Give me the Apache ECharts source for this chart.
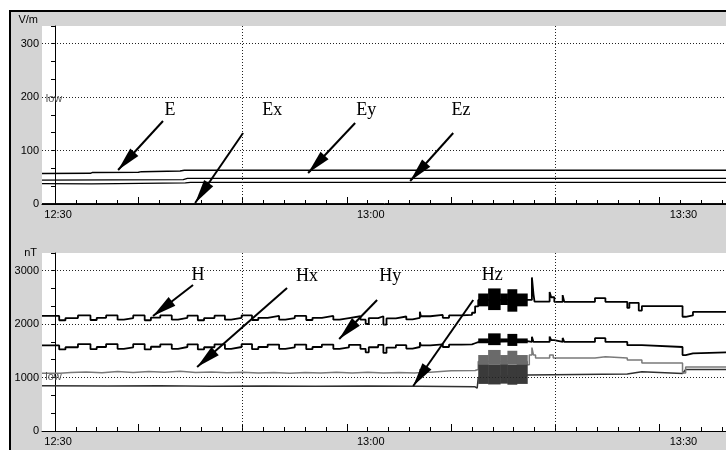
<!DOCTYPE html>
<html>
<head>
<meta charset="utf-8">
<script src="https://cdn.jsdelivr.net/npm/echarts@6.0.0/dist/echarts.min.js"></script>
<style>
html, body { margin: 0; padding: 0; background: #fff; }
#chart { width: 726px; height: 450px; }
</style>
</head>
<body>
<div id="chart"></div>
<script>
// time is in minutes after 12:30
const X_MIN = -1.25;
const X_MAX = 64.37;
const timeLabels = { 0: '12:30', 30: '13:00', 60: '13:30' };
const labelTicks = [0, 30, 60];
const smallTicks = [0, 2, 4, 6, 8, 10, 12, 14, 16, 18, 20, 22, 24, 26, 28, 30, 32, 34, 36, 38, 40, 42, 44, 46, 48, 50, 52, 54, 56, 58, 60, 62, 64];
const tallTicks = [8, 18, 28, 38, 48, 58];
const gridTimes = [18, 48];

// electric field, V/m
const eGrid = [100, 200, 300];
const E = [[-1.25, 57], [3.4, 57.3], [3.6, 59], [8.0, 59.5], [8.3, 60.5], [12.0, 61.5], [12.4, 63], [65.9, 63]];
const Ex = [[-1.25, 0.8], [65.9, 0.8]];
const Ey = [[-1.25, 44.5], [12.3, 45.5], [12.7, 48], [65.9, 48]];
const Ez = [[-1.25, 38], [3.5, 37.5], [6.0, 38], [12.5, 39.5], [13.0, 40.5], [65.9, 40.5]];

// magnetic field, nT
const hGrid = [1000, 2000, 3000];
const H = [
  [-1.25, 2150], [0.4, 2070], [1.0, 2110], [2.2, 2160], [3.4, 2075], [4.0, 2115], [4.9, 2160], [6.0, 2080], [6.6, 2110],
  [7.5, 2160], [8.6, 2070], [9.2, 2120], [10.1, 2160], [11.2, 2080], [11.8, 2115], [12.7, 2155], [13.7, 2070], [14.3, 2110],
  [15.3, 2155], [16.3, 2080], [16.9, 2115], [17.9, 2160], [18.9, 2075], [19.5, 2115], [20.4, 2150], [21.5, 2080], [22.1, 2110],
  [23.0, 2150], [24.1, 2075], [24.7, 2115], [25.6, 2150], [26.7, 2080], [27.3, 2110], [28.2, 2145], [29.3, 2080], [29.8, 2000],
  [30.1, 2110], [31.0, 2145], [31.5, 1990], [31.8, 2105], [32.7, 2140], [33.7, 2085], [34.3, 2115], [35.0, 2230], [35.1, 2145],
  [36.0, 2170], [37.2, 2115], [37.8, 2160], [39.0, 2170], [40.0, 2210], [40.3, 2330], [40.6, 2450],
  [45.3, 2450], [45.75, 2870], [45.9, 2560], [46.0, 2420], [47.45, 2600], [47.6, 2500], [47.9, 2415], [48.7, 2540], [48.85, 2415],
  [51.8, 2485], [52.8, 2415], [54.9, 2300], [55.1, 2395], [56.0, 2250], [56.3, 2335], [60.2, 2135], [60.5, 2160], [61.2, 2225], [65.9, 2225]
];
const Hy = [
  [-1.25, 1600], [0.4, 1525], [1.0, 1565], [2.2, 1625], [3.4, 1530], [4.0, 1570], [4.9, 1625], [6.0, 1535], [6.6, 1565],
  [7.5, 1625], [8.6, 1525], [9.2, 1575], [10.1, 1620], [11.2, 1535], [11.8, 1570], [12.7, 1620], [13.7, 1525], [14.3, 1565],
  [15.3, 1620], [16.3, 1535], [16.9, 1570], [17.9, 1625], [18.9, 1530], [19.5, 1570], [20.4, 1615], [21.5, 1535], [22.1, 1565],
  [23.0, 1615], [24.1, 1530], [24.7, 1570], [25.6, 1615], [26.7, 1535], [27.3, 1565], [28.2, 1610], [29.3, 1535], [29.8, 1470],
  [30.1, 1565], [31.0, 1610], [31.5, 1460], [31.8, 1560], [32.7, 1605], [33.7, 1540], [34.3, 1570], [35.0, 1660], [35.1, 1600],
  [36.0, 1620], [37.2, 1570], [37.8, 1615], [39.0, 1620], [40.0, 1640], [40.3, 1660], [40.6, 1680],
  [45.3, 1665], [45.75, 1760], [45.9, 1665], [47.45, 1765], [47.6, 1700], [47.9, 1665], [48.7, 1740], [48.85, 1665],
  [51.8, 1735], [52.8, 1665], [54.9, 1605], [56.3, 1570], [60.2, 1420], [60.5, 1450], [61.2, 1478], [65.9, 1478]
];
const Hx = [
  [-1.25, 1080], [0.5, 1095], [1.5, 1105], [3.0, 1090], [4.5, 1110], [6.0, 1095], [7.5, 1110], [9.0, 1100], [10.5, 1115],
  [12.0, 1095], [13.5, 1105], [15.0, 1090], [16.5, 1100], [18.0, 1085], [19.5, 1095], [21.0, 1080], [22.5, 1095], [24.0, 1085],
  [25.5, 1100], [27.0, 1085], [28.5, 1100], [30.0, 1085], [31.5, 1095], [33.0, 1085], [34.5, 1095], [35.0, 1160], [35.1, 1100],
  [36.0, 1125], [38.0, 1130], [40.3, 1150], [40.6, 1300],
  [45.3, 1240], [45.5, 1420], [45.75, 1560], [45.9, 1420], [46.1, 1365], [47.45, 1420], [47.8, 1365], [48.7, 1400], [48.85, 1365],
  [51.8, 1390], [52.8, 1365], [54.9, 1327], [56.3, 1271], [60.2, 1084], [60.5, 1196], [65.9, 1196]
];
const Hz = [
  [-1.25, 845], [5, 840], [10, 845], [15, 838], [20, 842], [25, 835], [30, 840], [35, 836], [40.3, 825], [40.5, 800], [40.6, 1000],
  [45.3, 1047], [54.9, 1065], [56.3, 1108], [60.2, 1075], [60.5, 1150], [65.9, 1150]
];

// noisy block around 13:11-13:15: step edges, then low / high envelope per step
const blobT = [40.6, 41.55, 42.7, 43.4, 44.3, 45.3];
const H_lo = [2330, 2260, 2355, 2230, 2330];
const H_hi = [2570, 2665, 2570, 2650, 2570];
const Hy_lo = [1640, 1605, 1670, 1590, 1640];
const Hy_hi = [1730, 1825, 1730, 1815, 1730];
const Hx_lo = [1240, 1240, 1240, 1240, 1240];
const Hx_hi = [1420, 1515, 1420, 1500, 1420];
const Hz_lo = [880, 870, 885, 865, 880];
const Hz_hi = [1250, 1245, 1255, 1240, 1250];

// annotations: label position and arrow (from -> to)
const eNotes = [
  { name: 'E', text: [11.04, 175.7], from: [10.36, 155.1], to: [6.05, 63.6] },
  { name: 'Ex', text: [20.83, 175.7], from: [18.04, 132.7], to: [13.44, 1.9] },
  { name: 'Ey', text: [29.85, 175.7], from: [28.79, 151.4], to: [24.28, 57.9] },
  { name: 'Ez', text: [38.95, 175.7], from: [38.2, 132.7], to: [34.07, 43] }
];
const hNotes = [
  { name: 'H', text: [13.72, 2916], from: [13.24, 2729], to: [9.4, 2149] },
  { name: 'Hx', text: [24.18, 2897], from: [22.26, 2673], to: [13.63, 1196] },
  { name: 'Hy', text: [32.15, 2897], from: [30.9, 2448], to: [27.26, 1719] },
  { name: 'Hz', text: [41.94, 2916], from: [40.12, 2448], to: [34.36, 841] }
];

// arrow head: tip sits in the middle of the symbol box, so it lands on the end point
const ARROW_HEAD = 'path://M5,0 M5,24 L10,48 L0,48 Z';

let myChart = echarts.init(document.getElementById('chart'));

function timeAxes(gridIndex) {
  return [
    {
      type: 'value', gridIndex: gridIndex, min: X_MIN, max: X_MAX, position: 'bottom',
      axisLine: { show: true, lineStyle: { color: '#000', width: 1 } },
      axisTick: { show: true, inside: true, length: 4, customValues: smallTicks, lineStyle: { color: '#000' } },
      axisLabel: {
        customValues: labelTicks, formatter: v => timeLabels[v] || '',
        color: '#000', fontSize: 11, fontFamily: 'Liberation Sans', margin: 5, padding: [0, 0, 0, 6]
      },
      splitLine: { show: false }
    },
    {
      type: 'value', gridIndex: gridIndex, min: X_MIN, max: X_MAX, position: 'bottom',
      axisLine: { show: false },
      axisTick: { show: true, inside: true, length: 7, customValues: tallTicks, lineStyle: { color: '#000' } },
      axisLabel: { show: false },
      splitLine: { show: false }
    }
  ];
}

function valueAxis(gridIndex, max, interval) {
  return {
    type: 'value', gridIndex: gridIndex, min: 0, max: max, interval: interval, position: 'left',
    axisLine: { show: true, lineStyle: { color: '#000' } },
    axisTick: { show: true, length: 4, lineStyle: { color: '#000' } },
    minorTick: { show: true, splitNumber: 3, length: 4, lineStyle: { color: '#000' } },
    axisLabel: {
      formatter: v => (v % interval === 0 ? String(v) : ''), showMaxLabel: false,
      color: '#000', fontSize: 11, fontFamily: 'Liberation Sans', margin: 3
    },
    splitLine: { show: false }
  };
}

// dotted grid lines, drawn as mark lines under the data
function gridSeries(xIdx, yIdx, levels) {
  let lines = levels.map(v => ({ yAxis: v })).concat(gridTimes.map(t => ({ xAxis: t })));
  return {
    type: 'line', xAxisIndex: xIdx, yAxisIndex: yIdx, data: [], z: 1, silent: true,
    markLine: {
      silent: true, symbol: ['none', 'none'], label: { show: false },
      lineStyle: { color: '#222', width: 1, type: [1, 2] },
      emphasis: { disabled: true }, animation: false, data: lines
    }
  };
}

function lineSeries(name, xIdx, yIdx, data, color, width, step) {
  return {
    name: name, type: 'line', xAxisIndex: xIdx, yAxisIndex: yIdx, data: data,
    step: step ? 'end' : false, showSymbol: false, symbol: 'none', z: 2,
    lineStyle: { color: color, width: width }, emphasis: { disabled: true }
  };
}

// filled block between low and high envelope, one rect per step
function bandSeries(xIdx, yIdx, lo, hi, color) {
  let segs = lo.map((v, i) => [blobT[i], blobT[i + 1], v, hi[i]]);
  return {
    type: 'custom', xAxisIndex: xIdx, yAxisIndex: yIdx, z: 3, silent: true,
    encode: { x: [0, 1], y: [2, 3] },
    data: segs,
    renderItem: function (params, api) {
      let p0 = api.coord([api.value(0), api.value(3)]);
      let p1 = api.coord([api.value(1), api.value(2)]);
      return {
        type: 'rect',
        shape: { x: p0[0], y: p0[1], width: p1[0] - p0[0] + 0.5, height: p1[1] - p0[1] },
        style: { fill: color }
      };
    }
  };
}

function noteSeries(xIdx, yIdx, notes, lowAt) {
  return {
    type: 'line', xAxisIndex: xIdx, yAxisIndex: yIdx, data: [], z: 5, silent: true,
    markLine: {
      silent: true, symbol: ['none', ARROW_HEAD], symbolSize: [11, 48],
      label: { show: false }, lineStyle: { color: '#000', width: 2, type: 'solid' },
      itemStyle: { color: '#000' },
      emphasis: { disabled: true }, animation: false,
      data: notes.map(n => [{ coord: n.from }, { coord: n.to }])
    },
    markPoint: {
      silent: true, symbol: 'rect', symbolSize: 1, itemStyle: { color: 'rgba(0,0,0,0)' },
      animation: false,
      data: notes.map(n => ({
        name: n.name, coord: n.text,
        label: { show: true, position: 'inside', formatter: '{b}', color: '#000', fontSize: 18, fontFamily: 'Liberation Serif' }
      })).concat([{
        name: 'low', coord: lowAt,
        label: { show: true, position: 'inside', formatter: '{b}', color: '#555', fontSize: 11, fontFamily: 'Liberation Sans' }
      }])
    }
  };
}

let option = {
  animation: false,
  backgroundColor: '#fff',
  graphic: [
    {
      type: 'rect', z: -10, silent: true,
      shape: { x: 10, y: 11, width: 800, height: 500 },
      style: { fill: '#d4d4d4', stroke: '#000', lineWidth: 2 }
    },
    // unit captions of the two value axes
    {
      type: 'text', x: 38, y: 20, silent: true,
      style: { text: 'V/m', align: 'right', verticalAlign: 'middle', fill: '#000', font: '11px "Liberation Sans"' }
    },
    {
      type: 'text', x: 37, y: 253, silent: true,
      style: { text: 'nT', align: 'right', verticalAlign: 'middle', fill: '#000', font: '11px "Liberation Sans"' }
    }
  ],
  grid: [
    { left: 42, top: 26, right: 0, height: 178, show: true, backgroundColor: '#fff', borderWidth: 0 },
    { left: 42, top: 253, right: 0, height: 178, show: true, backgroundColor: '#fff', borderWidth: 0 }
  ],
  xAxis: timeAxes(0).concat(timeAxes(1)),
  yAxis: [valueAxis(0, 332.7, 100), valueAxis(1, 3327, 1000)],
  series: [
    gridSeries(0, 0, eGrid),
    gridSeries(2, 1, hGrid),
    lineSeries('E', 0, 0, E, '#000', 1.5, false),
    lineSeries('Ex', 0, 0, Ex, '#000', 1, false),
    lineSeries('Ey', 0, 0, Ey, '#000', 1.2, false),
    lineSeries('Ez', 0, 0, Ez, '#000', 1.2, false),
    lineSeries('Hz', 2, 1, Hz, '#303030', 1.5, false),
    lineSeries('Hx', 2, 1, Hx, '#7a7a7a', 1.5, true),
    lineSeries('Hy', 2, 1, Hy, '#000', 1.8, true),
    lineSeries('H', 2, 1, H, '#000', 1.8, true),
    bandSeries(2, 1, Hz_lo, Hz_hi, '#3a3a3a'),
    bandSeries(2, 1, Hx_lo, Hx_hi, '#6a6a6a'),
    bandSeries(2, 1, Hy_lo, Hy_hi, '#000'),
    bandSeries(2, 1, H_lo, H_hi, '#000'),
    noteSeries(0, 0, eNotes, [-0.1, 196]),
    noteSeries(2, 1, hNotes, [-0.15, 1010])
  ]
};

myChart.setOption(option);
window.onresize = myChart.resize;
</script>
</body>
</html>
